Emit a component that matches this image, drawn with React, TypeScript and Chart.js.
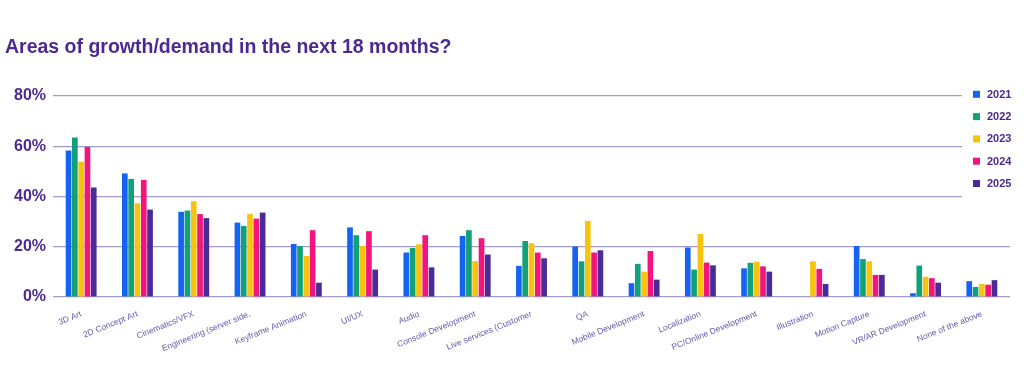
import React, { useEffect, useRef } from "react";
import { Chart, registerables } from "chart.js";

Chart.register(...registerables);

const categories = [
  "3D Art",
  "2D Concept Art",
  "Cinematics/VFX",
  "Engineering (server side,",
  "Keyframe Animation",
  "UI/UX",
  "Audio",
  "Console Development",
  "Live services (Customer",
  "QA",
  "Mobile Development",
  "Localization",
  "PC/Online Development",
  "Illustration",
  "Motion Capture",
  "VR/AR Development",
  "None of the above",
];

const years = ["2021", "2022", "2023", "2024", "2025"];

const values2021 = [58.3, 49.2, 33.9, 29.6, 21.1, 27.7, 17.7, 24.3, 12.4, 20.1, 5.5, 19.7, 11.4, null, 20.3, 1.5, 6.3];
const values2022 = [63.5, 47.0, 34.4, 28.3, 20.3, 24.6, 19.5, 26.6, 22.3, 14.2, 13.2, 10.9, 13.6, null, 15.1, 12.5, 4.0];
const values2023 = [53.8, 37.3, 38.1, 33.0, 16.3, 20.3, 21.0, 14.3, 21.4, 30.3, 10.1, 25.1, 14.0, 14.2, 14.2, 8.1, 5.2];
const values2024 = [59.7, 46.6, 33.0, 31.2, 26.6, 26.2, 24.6, 23.4, 17.7, 17.7, 18.3, 13.7, 12.2, 11.2, 8.8, 7.5, 4.9];
const values2025 = [43.6, 34.8, 31.4, 33.6, 5.7, 10.9, 11.8, 16.9, 15.4, 18.6, 6.9, 12.6, 10.1, 5.2, 8.8, 5.7, 6.7];

const yTicks = [0, 20, 40, 60, 80];

const seriesValues = [values2021, values2022, values2023, values2024, values2025];
const seriesColors = ["#1463f2", "#12a07a", "#f7c30f", "#f2157d", "#4b2a99"];

const TITLE_COLOR = "#4a2a8f";
const GRID_COLOR = "#a39bcc";
const FONT = "'Liberation Sans', Arial, Helvetica, sans-serif";

const legendPlugin = {
  id: "customLegend",
  beforeDatasetsDraw(chart: any) {
    const { ctx, chartArea } = chart;
    const yScale = chart.scales.y;
    ctx.save();
    // the upper grid lines stop short of the legend
    ctx.fillStyle = "#ffffff";
    const topY = chartArea.top - 6;
    const botY = yScale.getPixelForValue(30);
    ctx.fillRect(962, topY, chart.width - 962, botY - topY);
    ctx.font = `bold 11px ${FONT}`;
    ctx.textBaseline = "middle";
    ctx.textAlign = "left";
    years.forEach((yr, i) => {
      const cy = chartArea.top - 1.7 + i * 22.3;
      ctx.fillStyle = seriesColors[i];
      ctx.fillRect(973, cy - 3.5, 7, 7);
      ctx.fillStyle = TITLE_COLOR;
      ctx.fillText(yr, 987, cy + 0.5);
    });
    ctx.restore();
  },
};

export default function App() {
  const canvasRef = useRef<HTMLCanvasElement | null>(null);

  useEffect(() => {
    document.body.style.margin = "0";
    const canvas = canvasRef.current;
    if (!canvas) return;
    const chart = new Chart(canvas, {
      type: "bar",
      data: {
        labels: categories,
        datasets: years.map((yr, i) => ({
          label: yr,
          data: seriesValues[i],
          backgroundColor: seriesColors[i],
          borderWidth: 0,
          categoryPercentage: 0.56,
          barPercentage: 0.9,
        })),
      },
      options: {
        responsive: false,
        animation: false,
        layout: { padding: { left: 5, right: 14, top: 0, bottom: 0 } },
        plugins: {
          legend: { display: false },
          tooltip: { enabled: false },
          title: {
            display: true,
            text: "Areas of growth/demand in the next 18 months?",
            align: "start",
            color: TITLE_COLOR,
            font: { family: FONT, size: 19.5, weight: "bold", lineHeight: 1.2 },
            padding: { top: 35.5, bottom: 37.1 },
          },
        },
        scales: {
          x: {
            grid: { display: false, drawTicks: false },
            border: { display: false },
            ticks: {
              color: "#6a56b0",
              font: { family: FONT, size: 8.5 },
              minRotation: 22,
              maxRotation: 22,
              autoSkip: false,
              padding: 12,
            },
            afterFit(scale: any) {
              scale.height = 74;
            },
          },
          y: {
            min: 0,
            max: 80,
            afterBuildTicks(scale: any) {
              scale.ticks = yTicks.map((v) => ({ value: v }));
            },
            grid: { color: GRID_COLOR, lineWidth: 1.2, drawTicks: false },
            border: { display: false },
            ticks: {
              color: TITLE_COLOR,
              font: { family: FONT, size: 16, weight: "bold" },
              padding: 7,
              callback: (v: any) => `${v}%`,
            },
            afterFit(scale: any) {
              scale.width = 48;
            },
          },
        },
      },
      plugins: [legendPlugin],
    } as any);
    return () => chart.destroy();
  }, []);

  return (
    <div style={{ width: 1024, height: 371, position: "relative", background: "#fff" }}>
      <canvas ref={canvasRef} width={1024} height={371} style={{ width: 1024, height: 371, display: "block" }} />
    </div>
  );
}
